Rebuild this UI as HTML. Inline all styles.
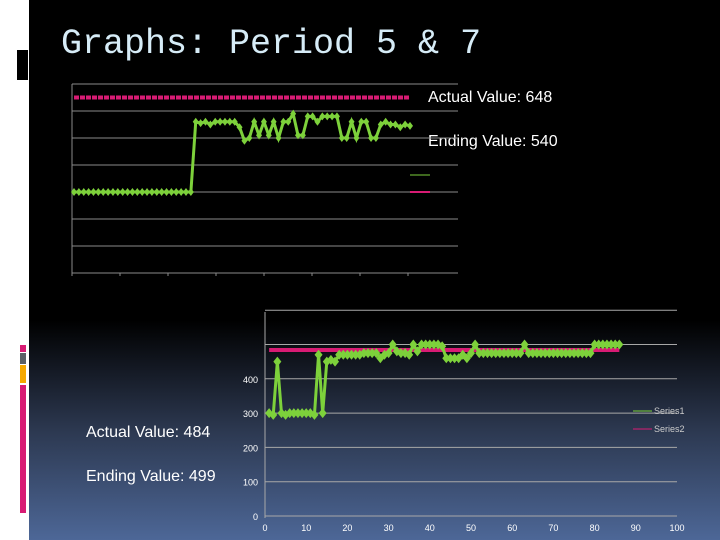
<!DOCTYPE html>
<html><head><meta charset="utf-8"><style>
body{margin:0;width:720px;height:540px;overflow:hidden;position:relative;background:#fff;font-family:"Liberation Sans",sans-serif}
#main{position:absolute;left:29px;top:0;width:691px;height:540px;background:linear-gradient(#000 0,#000 320px,#2c3850 430px,#4d6797 540px)}
.t{position:absolute;color:#fff;white-space:nowrap}
</style></head><body>
<div id="main"></div>
<div style="position:absolute;left:17px;top:50px;width:11px;height:30px;background:#000"></div>
<div style="position:absolute;left:20px;top:345px;width:6px;height:7px;background:#d81b74"></div>
<div style="position:absolute;left:20px;top:353px;width:6px;height:11px;background:#5a5f66"></div>
<div style="position:absolute;left:20px;top:365px;width:6px;height:18px;background:#f5a800"></div>
<div style="position:absolute;left:20px;top:385px;width:6px;height:128px;background:#d81b74"></div>
<div class="t" style="left:61px;top:24px;font-family:'Liberation Mono',monospace;font-size:35px;color:#d6ecf7">Graphs: Period 5 &amp; 7</div>
<div class="t" style="left:428px;top:89px;font-size:16px">Actual Value: 648</div>
<div class="t" style="left:428px;top:133px;font-size:16px">Ending Value: 540</div>
<div class="t" style="left:86px;top:424px;font-size:16px">Actual Value: 484</div>
<div class="t" style="left:86px;top:468px;font-size:16px">Ending Value: 499</div>
<svg id="c" width="720" height="540" style="position:absolute;left:0;top:0"></svg>
<script>
// Top chart data
const topS1=[3,3,3,3,3,3,3,3,3,3,3,3,3,3,3,3,3,3,3,3,3,3,3,3,3,5.6,5.55,5.6,5.5,5.6,5.6,5.6,5.6,5.6,5.4,4.9,5.0,5.6,5.1,5.6,5.1,5.6,5.0,5.6,5.6,5.9,5.1,5.1,5.8,5.8,5.6,5.8,5.8,5.8,5.8,5.0,5.0,5.6,5.0,5.6,5.6,5.0,5.0,5.5,5.6,5.5,5.5,5.4,5.5,5.45];
const topS2Value=6.5;
// Bottom chart data
const botS1=[300,295,450,300,295,300,300,300,300,300,300,295,470,300,450,455,450,470,470,470,470,470,470,475,475,475,475,460,470,475,500,480,475,475,470,500,480,500,500,500,500,500,495,460,460,460,460,470,460,475,500,475,475,475,475,475,475,475,475,475,475,475,500,475,475,475,475,475,475,475,475,475,475,475,475,475,475,475,475,500,500,500,500,500,500,500];
const botS2Value=484;
const botYTicks=["0","100","200","300","400"];
const botXTicks=["0","10","20","30","40","50","60","70","80","90","100"];
const svg=document.getElementById('c');const NS='http://www.w3.org/2000/svg';
function mk(t,a,p){const e=document.createElementNS(NS,t);for(const k in a)e.setAttribute(k,a[k]);(p||svg).appendChild(e);return e;}
// top axes
const tx=i=>74+i*(410-74)/69, ty=v=>273-v*27;
for(let g=1;g<=7;g++){const l=mk('line',{x1:72,x2:458,y1:ty(g),y2:ty(g),stroke:'#8a8a8a','stroke-width':1});}
let ax=mk('line',{x1:72,x2:458,y1:273,y2:273,stroke:'#8a8a8a'});
ax=mk('line',{x1:72,x2:72,y1:84,y2:275,stroke:'#8a8a8a'});
for(let k=0;k<8;k++){const l=mk('line',{x1:72+k*48,x2:72+k*48,y1:273,y2:276,stroke:'#8a8a8a'});}
let p=mk('line',{x1:tx(0),x2:tx(69),y1:ty(topS2Value),y2:ty(topS2Value),stroke:'#d81b74','stroke-width':4,'stroke-dasharray':'5 1'});
p=mk('polyline',{points:topS1.map((v,i)=>tx(i)+','+ty(v)).join(' '),fill:'none',stroke:'#7dd13b','stroke-width':3});
topS1.forEach((v,i)=>{const x=tx(i),y=ty(v);const d=mk('polygon',{points:`${x},${y-4} ${x+3},${y} ${x},${y+4} ${x-3},${y}`,fill:'#7dd13b'});});
let lg=mk('line',{x1:410,x2:430,y1:175,y2:175,stroke:'#7dd13b'});
lg=mk('line',{x1:410,x2:430,y1:192,y2:192,stroke:'#d81b74','stroke-width':2});
// bottom chart
const bx=v=>265+v*(677-265)/100, by=v=>516-v*0.343;
for(let g=1;g<=6;g++){const l=mk('line',{x1:265,x2:677,y1:by(g*100),y2:by(g*100),stroke:'#a8a8a8','stroke-width':1});}
ax=mk('line',{x1:265,x2:677,y1:516,y2:516,stroke:'#a8a8a8'});
ax=mk('line',{x1:265,x2:265,y1:312,y2:518,stroke:'#a8a8a8'});
botYTicks.forEach((t,i)=>{const e=mk('text',{x:258,y:by(i*100)+4,'text-anchor':'end',fill:'#fff','font-size':9,'font-family':'Liberation Sans'});e.textContent=t;});
botXTicks.forEach((t,i)=>{const e=mk('text',{x:bx(i*10),y:531,'text-anchor':'middle',fill:'#fff','font-size':9,'font-family':'Liberation Sans'});e.textContent=t;});
p=mk('line',{x1:bx(1),x2:bx(86),y1:by(botS2Value),y2:by(botS2Value),stroke:'#d81b74','stroke-width':4});
p=mk('polyline',{points:botS1.map((v,i)=>bx(i+1)+','+by(v)).join(' '),fill:'none',stroke:'#7dd13b','stroke-width':3});
botS1.forEach((v,i)=>{const x=bx(i+1),y=by(v);const d=mk('polygon',{points:`${x},${y-5} ${x+4},${y} ${x},${y+5} ${x-4},${y}`,fill:'#7dd13b'});});
lg=mk('line',{x1:633,x2:652,y1:411,y2:411,stroke:'#7dd13b'});
lg=mk('line',{x1:633,x2:652,y1:429,y2:429,stroke:'#d81b74'});
[['Series1',414],['Series2',432]].forEach(([t,y])=>{const e=mk('text',{x:654,y:y,fill:'#ccc','font-size':9,'font-family':'Liberation Sans'});e.textContent=t;});
</script>
</body></html>
